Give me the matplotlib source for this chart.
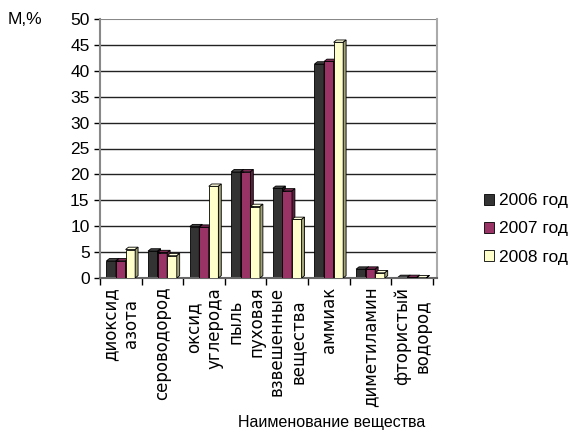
import numpy as np
import matplotlib
matplotlib.use('Agg')
import matplotlib.pyplot as plt
from matplotlib.patches import Polygon
from matplotlib.patches import Patch

plt.rcParams['font.family'] = ['Liberation Sans', 'DejaVu Sans']

categories = ['диоксид\nазота', 'сероводород', 'оксид\nуглерода', 'пыль\nпуховая',
              'взвешенные\nвещества', 'аммиак', 'диметиламин', 'фтористый\nводород']
years = ['2006 год', '2007 год', '2008 год']
v2006 = [3.3, 5.2, 9.9, 20.5, 17.3, 41.3, 1.7, 0.1]
v2007 = [3.3, 4.9, 9.8, 20.5, 16.8, 41.8, 1.7, 0.1]
v2008 = [5.5, 4.3, 17.7, 13.8, 11.3, 45.5, 1.0, 0.05]
series = [v2006, v2007, v2008]
colors = ['#333333', '#993366', '#ffffcc']
side_colors = ['#1a1a1a', '#5c1f3d', '#a3a37a']
top_colors = ['#444444', '#7a2952', '#ffffdd']
fs = 12.5

fig = plt.figure(figsize=(5.79, 4.34), dpi=100)
ax = fig.add_axes([100 / 579, 1 - 278 / 434, 337 / 579, 259 / 434])

x = np.arange(len(categories))
w = 0.23
dx, dy = 0.07, 0.45

# gridlines
for g in range(5, 50, 5):
    ax.axhline(g, color='#222222', lw=1, zorder=0)
ax.axhline(50, color='#888888', lw=1.5, zorder=0)

for k, vals in enumerate(series):
    xs = x + (k - 1) * w
    ax.bar(xs, vals, width=w, color=colors[k], edgecolor='black', lw=0.6, zorder=2 + k)
    for xc, v in zip(xs, vals):
        l, r = xc - w / 2, xc + w / 2
        top = Polygon([(l, v), (l + dx, v + dy), (r + dx, v + dy), (r, v)],
                      closed=True, fc=top_colors[k], ec='black', lw=0.6, zorder=2 + k)
        side = Polygon([(r, 0), (r + dx, dy), (r + dx, v + dy), (r, v)],
                       closed=True, fc=side_colors[k], ec='black', lw=0.6, zorder=2 + k)
        ax.add_patch(top)
        ax.add_patch(side)

ax.set_xlim(-0.5, 7.6)
ax.set_ylim(0, 50)
ax.set_yticks(range(0, 51, 5))
ax.set_xticks(np.arange(-0.5, 8, 1))
ax.set_xticklabels([])
ax.tick_params(axis='both', direction='out', length=4, width=1, colors='black', labelsize=fs)
ax.tick_params(axis='x', length=5)

ax.spines['top'].set_visible(False)
ax.spines['right'].set_color('#aaaaaa')
ax.spines['right'].set_linewidth(1.5)
ax.spines['left'].set_color('#888888')
ax.spines['left'].set_linewidth(1.5)
ax.spines['bottom'].set_color('#666666')
ax.spines['bottom'].set_linewidth(1.5)

for xc, lab in zip(x, categories):
    ax.text(xc, -1.7, lab, rotation=90, ha='center', va='top', multialignment='center',
            fontsize=12, family=['DejaVu Sans'], linespacing=1.2, clip_on=False)

fig.text(8 / 579, 1 - 19 / 434, 'М,%', fontsize=fs, va='center', ha='left')
fig.text(332 / 579, 1 - 423 / 434, 'Наименование вещества', fontsize=11.5,
         va='center', ha='center')

handles = [Patch(fc=c, ec='black', lw=0.6) for c in colors]
fig.legend(handles, years, loc='center left', bbox_to_anchor=(468 / 579, 1 - 229 / 434),
           frameon=False, fontsize=fs, handlelength=0.6, handleheight=0.6,
           handletextpad=0.3, labelspacing=0.75)

fig.savefig('out.png', dpi=100)
